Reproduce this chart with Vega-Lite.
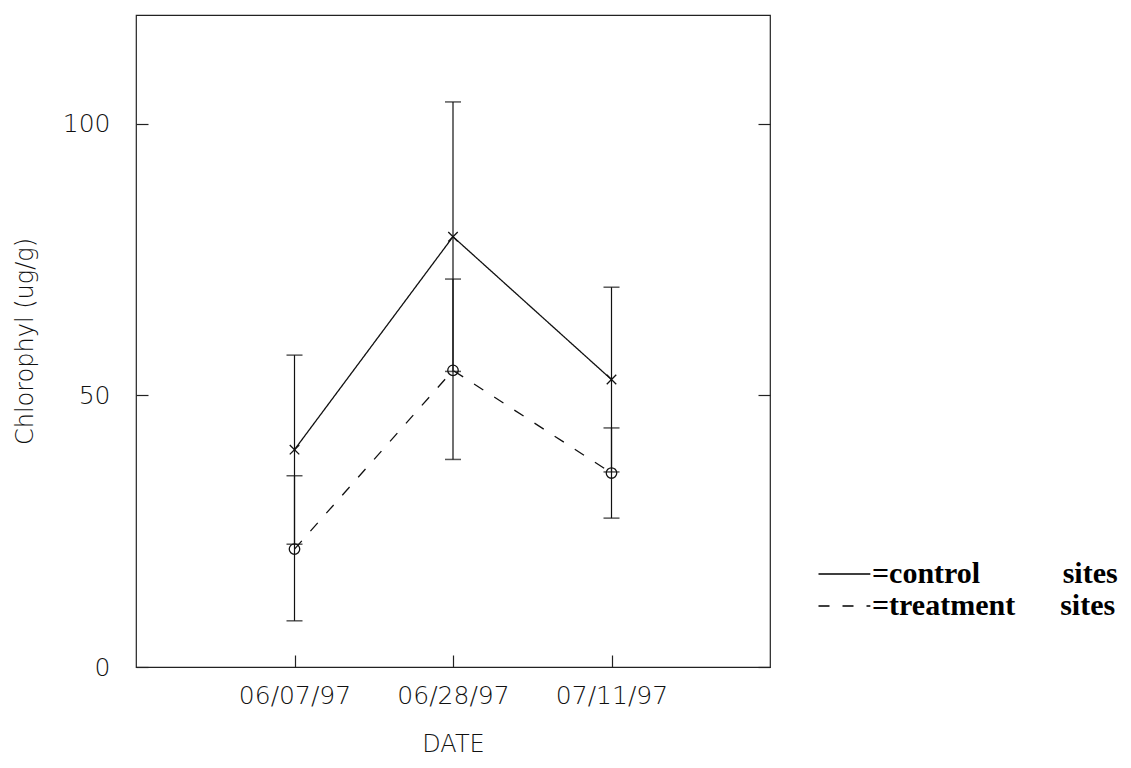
{
  "$schema": "https://vega.github.io/schema/vega-lite/v6.json",
  "width": 634,
  "height": 652,
  "autosize": {"type": "none"},
  "padding": {"left": 136, "top": 15, "right": 361, "bottom": 101},
  "background": "white",
  "config": {
    "view": {"stroke": "#222", "strokeWidth": 1.2},
    "axis": {
      "labelFont": "DejaVu Sans",
      "labelFontWeight": 200,
      "labelFontSize": 25,
      "labelColor": "#111",
      "titleFont": "DejaVu Sans",
      "titleFontWeight": 200,
      "titleFontSize": 24,
      "titleColor": "#111",
      "grid": false,
      "domain": false,
      "tickColor": "#222",
      "tickWidth": 1.2
    },
    "legend": {
      "orient": "none",
      "legendX": 676,
      "legendY": 544,
      "labelFont": "Liberation Serif",
      "labelFontWeight": "bold",
      "labelFontSize": 30,
      "labelColor": "#000",
      "labelOffset": 30,
      "labelLimit": 600,
      "symbolType": "M-1,0L5.1,0",
      "symbolSize": 289,
      "symbolStrokeWidth": 1.5,
      "symbolStrokeColor": "#000",
      "padding": 0
    }
  },
  "data": {
    "values": [
      {"date": "06/07/97", "series": "control", "mean": 40.0, "lo": 22.6, "hi": 57.4},
      {"date": "06/28/97", "series": "control", "mean": 79.2, "lo": 54.4, "hi": 104.0},
      {"date": "07/11/97", "series": "control", "mean": 52.9, "lo": 35.9, "hi": 69.9},
      {"date": "06/07/97", "series": "treatment", "mean": 21.7, "lo": 8.5, "hi": 35.2},
      {"date": "06/28/97", "series": "treatment", "mean": 54.6, "lo": 38.2, "hi": 71.4},
      {"date": "07/11/97", "series": "treatment", "mean": 35.7, "lo": 27.4, "hi": 44.0}
    ]
  },
  "encoding": {
    "x": {
      "field": "date",
      "type": "ordinal",
      "sort": null,
      "scale": {"type": "point", "padding": 1},
      "axis": {"title": "DATE", "labelAngle": 0, "tickSize": -12, "labelPadding": 28, "titlePadding": 24}
    }
  },
  "layer": [
    {
      "mark": {"type": "rule", "color": "#111", "strokeWidth": 1.2},
      "encoding": {
        "y": {
          "field": "lo",
          "type": "quantitative",
          "scale": {"domain": [0, 120], "nice": false},
          "axis": {"title": "Chlorophyl (ug/g)", "orient": "left", "values": [0, 50, 100], "tickSize": -12, "labelPadding": 38, "titleX": -111, "titleY": 326, "titleAngle": -90, "titleAlign": "center", "titleBaseline": "middle"}
        },
        "y2": {"field": "hi"},
        "detail": {"field": "series"}
      }
    },
    {
      "mark": {"type": "tick", "color": "#111", "size": 16, "thickness": 1.5},
      "encoding": {
        "y": {
          "field": "lo",
          "type": "quantitative",
          "scale": {"domain": [0, 120], "nice": false},
          "axis": {"title": null, "orient": "right", "values": [0, 50, 100], "tickSize": -12, "labels": false}
        }
      }
    },
    {
      "mark": {"type": "tick", "color": "#111", "size": 16, "thickness": 1.5},
      "encoding": {
        "y": {"field": "hi", "type": "quantitative", "scale": {"domain": [0, 120], "nice": false}, "axis": null}
      }
    },
    {
      "mark": {"type": "line", "color": "#111", "strokeWidth": 1.3},
      "encoding": {
        "y": {"field": "mean", "type": "quantitative", "scale": {"domain": [0, 120], "nice": false}, "axis": null},
        "strokeDash": {
          "field": "series",
          "type": "nominal",
          "scale": {"domain": ["control", "treatment"], "range": [[1, 0], [11, 13]]},
          "legend": {
            "title": null,
            "labelExpr": "datum.label == 'control' ? '=control\u00a0\u00a0\u00a0\u00a0\u00a0\u00a0\u00a0\u00a0\u00a0\u00a0 sites' : '=treatment\u00a0\u00a0\u00a0\u00a0\u00a0 sites'"
          }
        }
      }
    },
    {
      "transform": [{"filter": "datum.series == 'control'"}],
      "mark": {"type": "point", "shape": "M-1,-1L1,1M-1,1L1,-1", "size": 90, "filled": false, "color": "#111", "strokeWidth": 1.3, "opacity": 1},
      "encoding": {
        "y": {"field": "mean", "type": "quantitative", "scale": {"domain": [0, 120], "nice": false}, "axis": null}
      }
    },
    {
      "transform": [{"filter": "datum.series == 'treatment'"}],
      "mark": {"type": "point", "shape": "circle", "size": 110, "filled": false, "color": "#111", "strokeWidth": 1.3, "opacity": 1},
      "encoding": {
        "y": {"field": "mean", "type": "quantitative", "scale": {"domain": [0, 120], "nice": false}, "axis": null}
      }
    }
  ],
  "resolve": {"axis": {"y": "independent"}}
}
